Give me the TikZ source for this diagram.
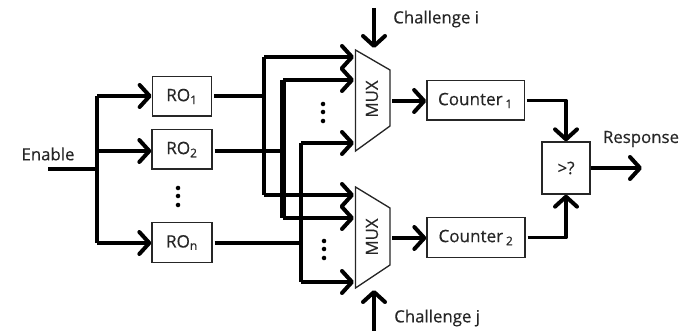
\documentclass[tikz,border=0pt]{standalone}
\usepackage{fontspec}
\setmainfont{Open Sans}[Scale=1.0]
\usetikzlibrary{arrows.meta}
\tikzset{
  x=0.75pt,y=-0.75pt,
  box/.style={draw=black!85,line width=1pt,rectangle,inner sep=0pt,font=\fontsize{12.8pt}{15pt}\selectfont\addfontfeature{FakeBold=0.4},text=black!85},
  lab/.style={inner sep=0pt,font=\fontsize{12.6pt}{15pt}\selectfont\addfontfeature{FakeBold=0.4},text=black!85},
  wire/.style={draw=black,line width=2.8pt,line join=round},
  arr/.style={-{Straight Barb[length=7.5pt,width=16.5pt,line width=3pt,round]}},
  dots/.style={fill=black,circle,inner sep=0pt,minimum size=3.4pt},
  mux/.style={draw=black!85,line width=1pt,line join=miter},
}
\begin{document}
\begin{tikzpicture}
\useasboundingbox (0,0) rectangle (688,331);
% blocks
\node[box,minimum width=44.5pt,minimum height=29.5pt] (ro1) at (182,96.5) {RO\textsubscript{1}};
\node[box,minimum width=45pt,minimum height=29.5pt] (ro2) at (182,149.5) {RO\textsubscript{2}};
\node[box,minimum width=45pt,minimum height=29.5pt] (ron) at (182,242.5) {RO\textsubscript{n}};
\node[box,minimum width=73pt,minimum height=29.5pt] (c1) at (475.5,100.5) {Counter\,\textsubscript{1}};
\node[box,minimum width=73.5pt,minimum height=29.5pt] (c2) at (476,237.5) {Counter\,\textsubscript{2}};
\node[box,minimum width=36pt,minimum height=39pt] (cmp) at (566,168) {>?};
% multiplexers
\draw[mux] (355.5,50) -- (390,70) -- (390,126) -- (355.5,151) -- cycle;
\draw[mux] (355.5,187) -- (390,208) -- (390,265) -- (355.5,288) -- cycle;
\node[lab,rotate=90] (m1) at (372,99) {MUX};
\node[lab,rotate=90] (m2) at (372,237) {MUX};
% labels
\node[lab] (en) at (48,154) {Enable};
\node[lab,anchor=west] (chi) at (393,19) {Challenge i};
\node[lab,anchor=west] (chj) at (394,318) {Challenge j};
\node[lab] (resp) at (641,139) {Response};
% free ends
\coordinate (enin) at (48,169);
\coordinate (j0) at (97,169);
\coordinate (b1) at (97,96);
\coordinate (b2) at (97,151);
\coordinate (bn) at (97,243);
\coordinate (j1) at (264,96);
\coordinate (j2) at (283,151);
\coordinate (jn) at (301,243);
\coordinate (a1) at (354,57);
\coordinate (a2) at (354,80);
\coordinate (a3) at (354,143);
\coordinate (a4) at (354,195);
\coordinate (a5) at (354,218);
\coordinate (a6) at (354,282);
\coordinate (chit) at (374,8);
\coordinate (chib) at (374,48);
\coordinate (chjb) at (374,331);
\coordinate (chjt) at (374,290);
\coordinate (rout) at (642,168);
\coordinate (mo1) at (392,101);
\coordinate (mo2) at (392,238);
% enable tree
\draw[wire] (enin) -- (j0);
\draw[wire,line width=3.6pt] (b1) -- (bn);
\draw[wire,arr] (b1) -- (b1 -| ro1.west);
\draw[wire,arr] (b2) -- (b2 -| ro2.west);
\draw[wire,arr] (bn) -- (bn -| ron.west);
% RO outputs
\draw[wire] (j1 -| ro1.east) ++(2,0) -- (j1);
\draw[wire,line width=2.3pt] (j2 -| ro2.east) ++(2,0) -- (j2);
\draw[wire] (jn -| ron.east) ++(2,0) -- (jn);
\draw[wire,line width=3.4pt] (a1 -| j1) -- (a4 -| j1);
\draw[wire,line width=3.8pt] (a2 -| j2) -- (a5 -| j2);
\draw[wire,line width=2.8pt] (a3 -| jn) -- (a6 -| jn);
\draw[wire,arr] (a1 -| j1) -- (a1);
\draw[wire,arr] (a4 -| j1) -- (a4);
\draw[wire,arr] (a2 -| j2) -- (a2);
\draw[wire,arr] (a5 -| j2) -- (a5);
\draw[wire,arr] (a3 -| jn) -- (a3);
\draw[wire,arr] (a6 -| jn) -- (a6);
% challenges
\draw[wire,arr] (chit) -- (chib);
\draw[wire,arr] (chjb) -- (chjt);
% outputs
\draw[wire,arr] (mo1) -- (mo1 -| c1.west);
\draw[wire,arr] (mo2) -- (mo2 -| c2.west);
\draw[wire,arr] (c1.east) ++(2,0) -| (cmp.north);
\draw[wire,arr] (c2.east) ++(2,0) -| (cmp.south);
\draw[wire,arr] (cmp.east) -- (rout);
% ellipses
\node[dots] (d1) at (323,104) {};
\node[dots] (d2) at (323,112) {};
\node[dots] (d3) at (323,121) {};
\node[dots] (d4) at (324,241) {};
\node[dots] (d5) at (324,249) {};
\node[dots] (d6) at (324,258) {};
\node[dots] (d7) at (178,188) {};
\node[dots] (d8) at (178,196) {};
\node[dots] (d9) at (178,205) {};
\end{tikzpicture}
\end{document}
